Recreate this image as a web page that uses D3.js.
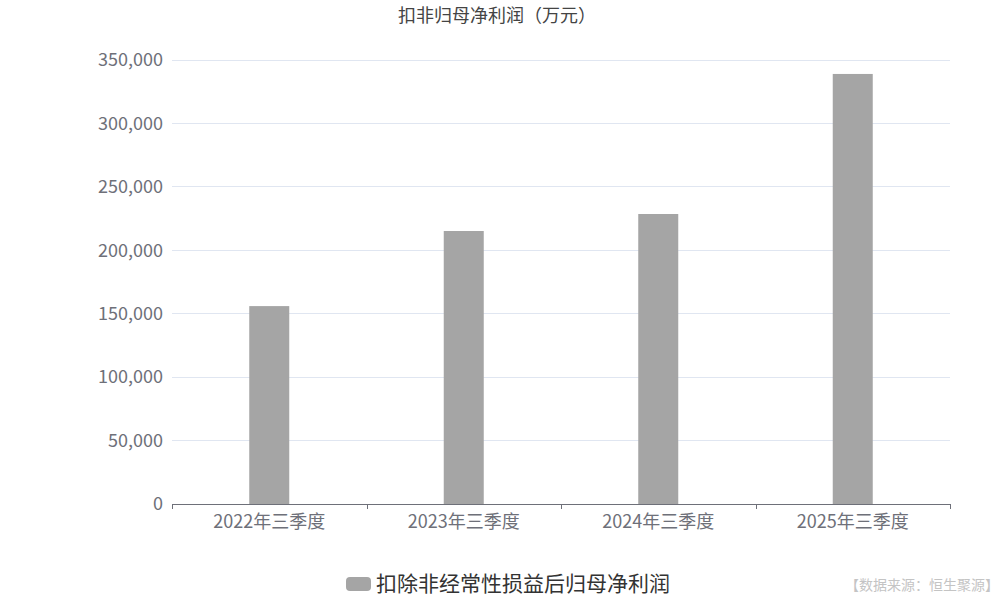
<!DOCTYPE html>
<html><head><meta charset="utf-8">
<script src="https://cdn.jsdelivr.net/npm/d3@7"></script>
<style>body{margin:0;background:#fff;}svg{display:block;font-family:"Noto Sans CJK SC","Noto Sans",sans-serif;}</style>
</head><body><svg id="c" width="1000" height="600"></svg>
<script>
const categories = ["2022年三季度","2023年三季度","2024年三季度","2025年三季度"];
const values = [156000, 215200, 228600, 339000];
const yTicks = [0,50000,100000,150000,200000,250000,300000,350000];
const title = "扣非归母净利润（万元）";
const seriesName = "扣除非经常性损益后归母净利润";
const source = "【数据来源：恒生聚源】";

const svg = d3.select("#c");
const m = {l:172, r:950, t:60, b:504};
const x = d3.scaleBand().domain(categories).range([m.l, m.r]);
const y = d3.scaleLinear().domain([0,350000]).range([m.b, m.t]);

svg.append("text").attr("x",497).attr("y",22).attr("text-anchor","middle")
  .attr("font-size",18).attr("fill","#444").text(title);

// grid
svg.append("g").selectAll("line").data(yTicks.filter(d=>d>0)).join("line")
  .attr("x1",m.l).attr("x2",m.r).attr("y1",d=>y(d)).attr("y2",d=>y(d))
  .attr("stroke","#e0e6f1").attr("stroke-width",1).attr("shape-rendering","crispEdges");

// y labels
const fmt = d3.format(",");
svg.append("g").selectAll("text").data(yTicks).join("text")
  .attr("x",m.l-9).attr("y",d=>y(d)).attr("dy","0.35em").attr("text-anchor","end")
  .attr("font-size",18).attr("fill","#6e7079").text(d=>fmt(d));

// bars
const bw = 40;
svg.append("g").selectAll("rect").data(values).join("rect")
  .attr("x",(d,i)=>x(categories[i])+x.bandwidth()/2-bw/2)
  .attr("y",d=>y(d)).attr("width",bw).attr("height",d=>m.b-y(d))
  .attr("fill","#a5a5a5");

// x axis
const xa = svg.append("g").attr("transform",`translate(0,${m.b})`)
  .call(d3.axisBottom(x).tickSize(0).tickPadding(8));
xa.select(".domain").attr("stroke","#6e7079").attr("d",`M${m.l},0.5H${m.r}`);
xa.selectAll("text").attr("font-size",18).attr("fill","#6e7079").attr("font-family",'"Noto Sans CJK SC",sans-serif').attr("dy","0.9em");
const bounds = [...categories.map(c=>x(c)), m.r];
svg.append("g").selectAll("line").data(bounds).join("line")
  .attr("x1",d=>Math.round(d)+0.5).attr("x2",d=>Math.round(d)+0.5)
  .attr("y1",m.b).attr("y2",m.b+5).attr("stroke","#6e7079");

// legend
const lg = svg.append("g");
lg.append("rect").attr("x",346).attr("y",577).attr("width",25).attr("height",14).attr("rx",4)
  .attr("fill","#a5a5a5");
lg.append("text").attr("x",376).attr("y",584).attr("dy","0.35em").attr("font-size",21)
  .attr("fill","#333").text(seriesName);

svg.append("text").attr("x",999).attr("y",590).attr("text-anchor","end")
  .attr("font-size",14).attr("fill","#c4c4c4").text(source);
</script></body></html>
